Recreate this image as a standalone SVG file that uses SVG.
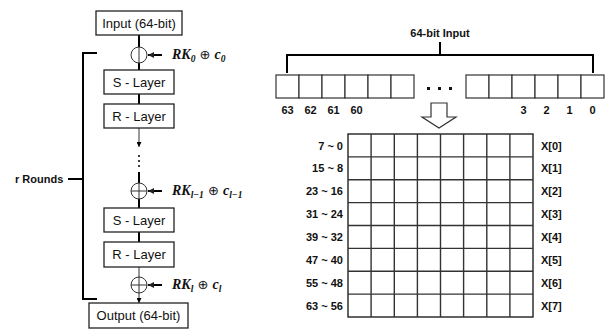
<svg xmlns="http://www.w3.org/2000/svg" width="611" height="331" viewBox="0 0 611 331">
<defs>
<marker id="ah" viewBox="0 0 10 10" refX="10" refY="5" markerWidth="5" markerHeight="5" markerUnits="userSpaceOnUse" orient="auto"><path d="M0,0 L10,5 L0,10 z" fill="#000"/></marker>
<marker id="ahs" viewBox="0 0 10 10" refX="10" refY="5" markerWidth="6" markerHeight="6" markerUnits="userSpaceOnUse" orient="auto"><path d="M0,0 L10,5 L0,10 z" fill="#222"/></marker>
</defs>
<style>
.box{fill:#fff;stroke:#222;stroke-width:1.3}
.lbl{font-family:"Liberation Sans",Arial,sans-serif;font-size:13px;fill:#111;text-anchor:middle}
.b{font-family:"Liberation Sans",Arial,sans-serif;font-size:11px;font-weight:bold;fill:#111}
.m{font-family:"Liberation Serif","DejaVu Serif",serif;font-size:14px;font-weight:bold;font-style:italic;fill:#111}
.sub{font-size:9.5px}
.op{font-family:"DejaVu Sans",sans-serif;font-style:normal;font-weight:normal;font-size:13px}
.thick{stroke:#000;stroke-width:2;fill:none}
.thin{stroke:#333;stroke-width:1;fill:none}
.xor{fill:#fff;stroke:#333;stroke-width:1}
.cell{fill:#fff;stroke:#333;stroke-width:1.2}
.grid{stroke:#333;stroke-width:1.4;fill:none}
</style>
<rect width="611" height="331" fill="#fff"/>

<g id="connectors">
<path class="thick" d="M139,35 V47 M139,63 V70 M139,94 V104"/>
<path class="thin" d="M139,128 V147" marker-end="url(#ah)"/>
<path class="thick" d="M139,172 V183 M139,199 V208 M139,232 V242"/>
<path class="thin" d="M139,267 V277 M139,293 V303" marker-end="url(#ah)"/>
<path class="thick" d="M162,55 H148" marker-end="url(#ahs)"/>
<path class="thick" d="M162,191 H148" marker-end="url(#ahs)"/>
<path class="thick" d="M162,285 H148" marker-end="url(#ahs)"/>
<path class="thick" d="M97,53 H83 V299 H97 M83,179 H68"/>
<path class="thick" stroke-width="1.6" d="M440,42 V55 M287,73 V55 H593 V73"/>
<polygon points="431,103 447,103 447,117 456,117 439,128 422,117 431,117" fill="#fff" stroke="#333" stroke-width="1.2"/>
</g>

<g id="dots-v"><circle cx="139" cy="156" r="1" fill="#000"/><circle cx="139" cy="161" r="1" fill="#000"/><circle cx="139" cy="166" r="1" fill="#000"/></g>

<g id="input"><rect class="box" x="96" y="11" width="86" height="24"/><text class="lbl" x="139" y="28">Input (64-bit)</text></g>
<g id="xor0"><circle class="xor" cx="139" cy="55" r="8"/><path class="thin" d="M139,47 V63"/></g>
<g id="key0"><text class="m" x="172" y="59">RK<tspan class="sub" dy="3">0</tspan><tspan class="op" dy="-3"> ⊕ </tspan>c<tspan class="sub" dy="3">0</tspan></text></g>
<g id="slayer1"><rect class="box" x="104" y="70" width="70" height="24"/><text class="lbl" x="139" y="87">S - Layer</text></g>
<g id="rlayer1"><rect class="box" x="104" y="104" width="70" height="24"/><text class="lbl" x="139" y="121">R - Layer</text></g>
<g id="xor1"><circle class="xor" cx="139" cy="191" r="8"/><path class="thin" d="M139,183 V199 M131,191 H147"/></g>
<g id="key1"><text class="m" x="172" y="195">RK<tspan class="sub" dy="3">l−1</tspan><tspan class="op" dy="-3"> ⊕ </tspan>c<tspan class="sub" dy="3">l−1</tspan></text></g>
<g id="slayer2"><rect class="box" x="104" y="208" width="70" height="24"/><text class="lbl" x="139" y="225">S - Layer</text></g>
<g id="rlayer2"><rect class="box" x="104" y="242" width="70" height="25"/><text class="lbl" x="139" y="259">R - Layer</text></g>
<g id="xor2"><circle class="xor" cx="139" cy="285" r="8"/><path class="thin" d="M139,277 V293 M131,285 H147"/></g>
<g id="key2"><text class="m" x="172" y="289">RK<tspan class="sub" dy="3">l</tspan><tspan class="op" dy="-3"> ⊕ </tspan>c<tspan class="sub" dy="3">l</tspan></text></g>
<g id="output"><rect class="box" x="89" y="303" width="99" height="25"/><text class="lbl" x="138.5" y="320">Output (64-bit)</text></g>
<g id="rounds"><text class="b" x="15" y="183">r Rounds</text></g>

<g id="input-title"><text class="b" x="440" y="37" text-anchor="middle" font-size="12">64-bit Input</text></g>
<g id="bits-left">
<rect class="cell" x="276" y="75" width="23" height="23"/><rect class="cell" x="299" y="75" width="23" height="23"/><rect class="cell" x="322" y="75" width="23" height="23"/><rect class="cell" x="345" y="75" width="23" height="23"/><rect class="cell" x="368" y="75" width="23" height="23"/><rect class="cell" x="391" y="75" width="23" height="23"/>
<text class="b" text-anchor="middle" y="114" font-size="11.5"><tspan x="287.5">63</tspan><tspan x="310.5">62</tspan><tspan x="333.5">61</tspan><tspan x="356.5">60</tspan></text>
</g>
<g id="ellipsis"><rect x="427" y="87" width="3" height="3" fill="#111"/><rect x="438" y="87" width="3" height="3" fill="#111"/><rect x="449" y="87" width="3" height="3" fill="#111"/></g>
<g id="bits-right">
<rect class="cell" x="466" y="75" width="23" height="23"/><rect class="cell" x="489" y="75" width="23" height="23"/><rect class="cell" x="512" y="75" width="23" height="23"/><rect class="cell" x="535" y="75" width="23" height="23"/><rect class="cell" x="558" y="75" width="23" height="23"/><rect class="cell" x="581" y="75" width="23" height="23"/>
<text class="b" text-anchor="middle" y="114" font-size="11.5"><tspan x="523.5">3</tspan><tspan x="546.5">2</tspan><tspan x="569.5">1</tspan><tspan x="592.5">0</tspan></text>
</g>

<g id="state-grid">
<rect x="348" y="134" width="185" height="183" fill="#fff" stroke="#222" stroke-width="1.4"/>
<path class="grid" d="M371.1,134V317M394.3,134V317M417.4,134V317M440.5,134V317M463.6,134V317M486.8,134V317M509.9,134V317M348,156.9H533M348,179.8H533M348,202.6H533M348,225.5H533M348,248.4H533M348,271.3H533M348,294.1H533"/>
</g>
<g id="row-labels">
<text class="b" text-anchor="end" x="343"><tspan x="343" y="149.5">7 ~ 0</tspan><tspan x="343" y="172.4">15 ~ 8</tspan><tspan x="343" y="195.3">23 ~ 16</tspan><tspan x="343" y="218.1">31 ~ 24</tspan><tspan x="343" y="241">39 ~ 32</tspan><tspan x="343" y="263.9">47 ~ 40</tspan><tspan x="343" y="286.8">55 ~ 48</tspan><tspan x="343" y="309.6">63 ~ 56</tspan></text>
</g>
<g id="word-labels">
<text class="b" x="541"><tspan x="541" y="149.5">X[0]</tspan><tspan x="541" y="172.4">X[1]</tspan><tspan x="541" y="195.3">X[2]</tspan><tspan x="541" y="218.1">X[3]</tspan><tspan x="541" y="241">X[4]</tspan><tspan x="541" y="263.9">X[5]</tspan><tspan x="541" y="286.8">X[6]</tspan><tspan x="541" y="309.6">X[7]</tspan></text>
</g>
</svg>
